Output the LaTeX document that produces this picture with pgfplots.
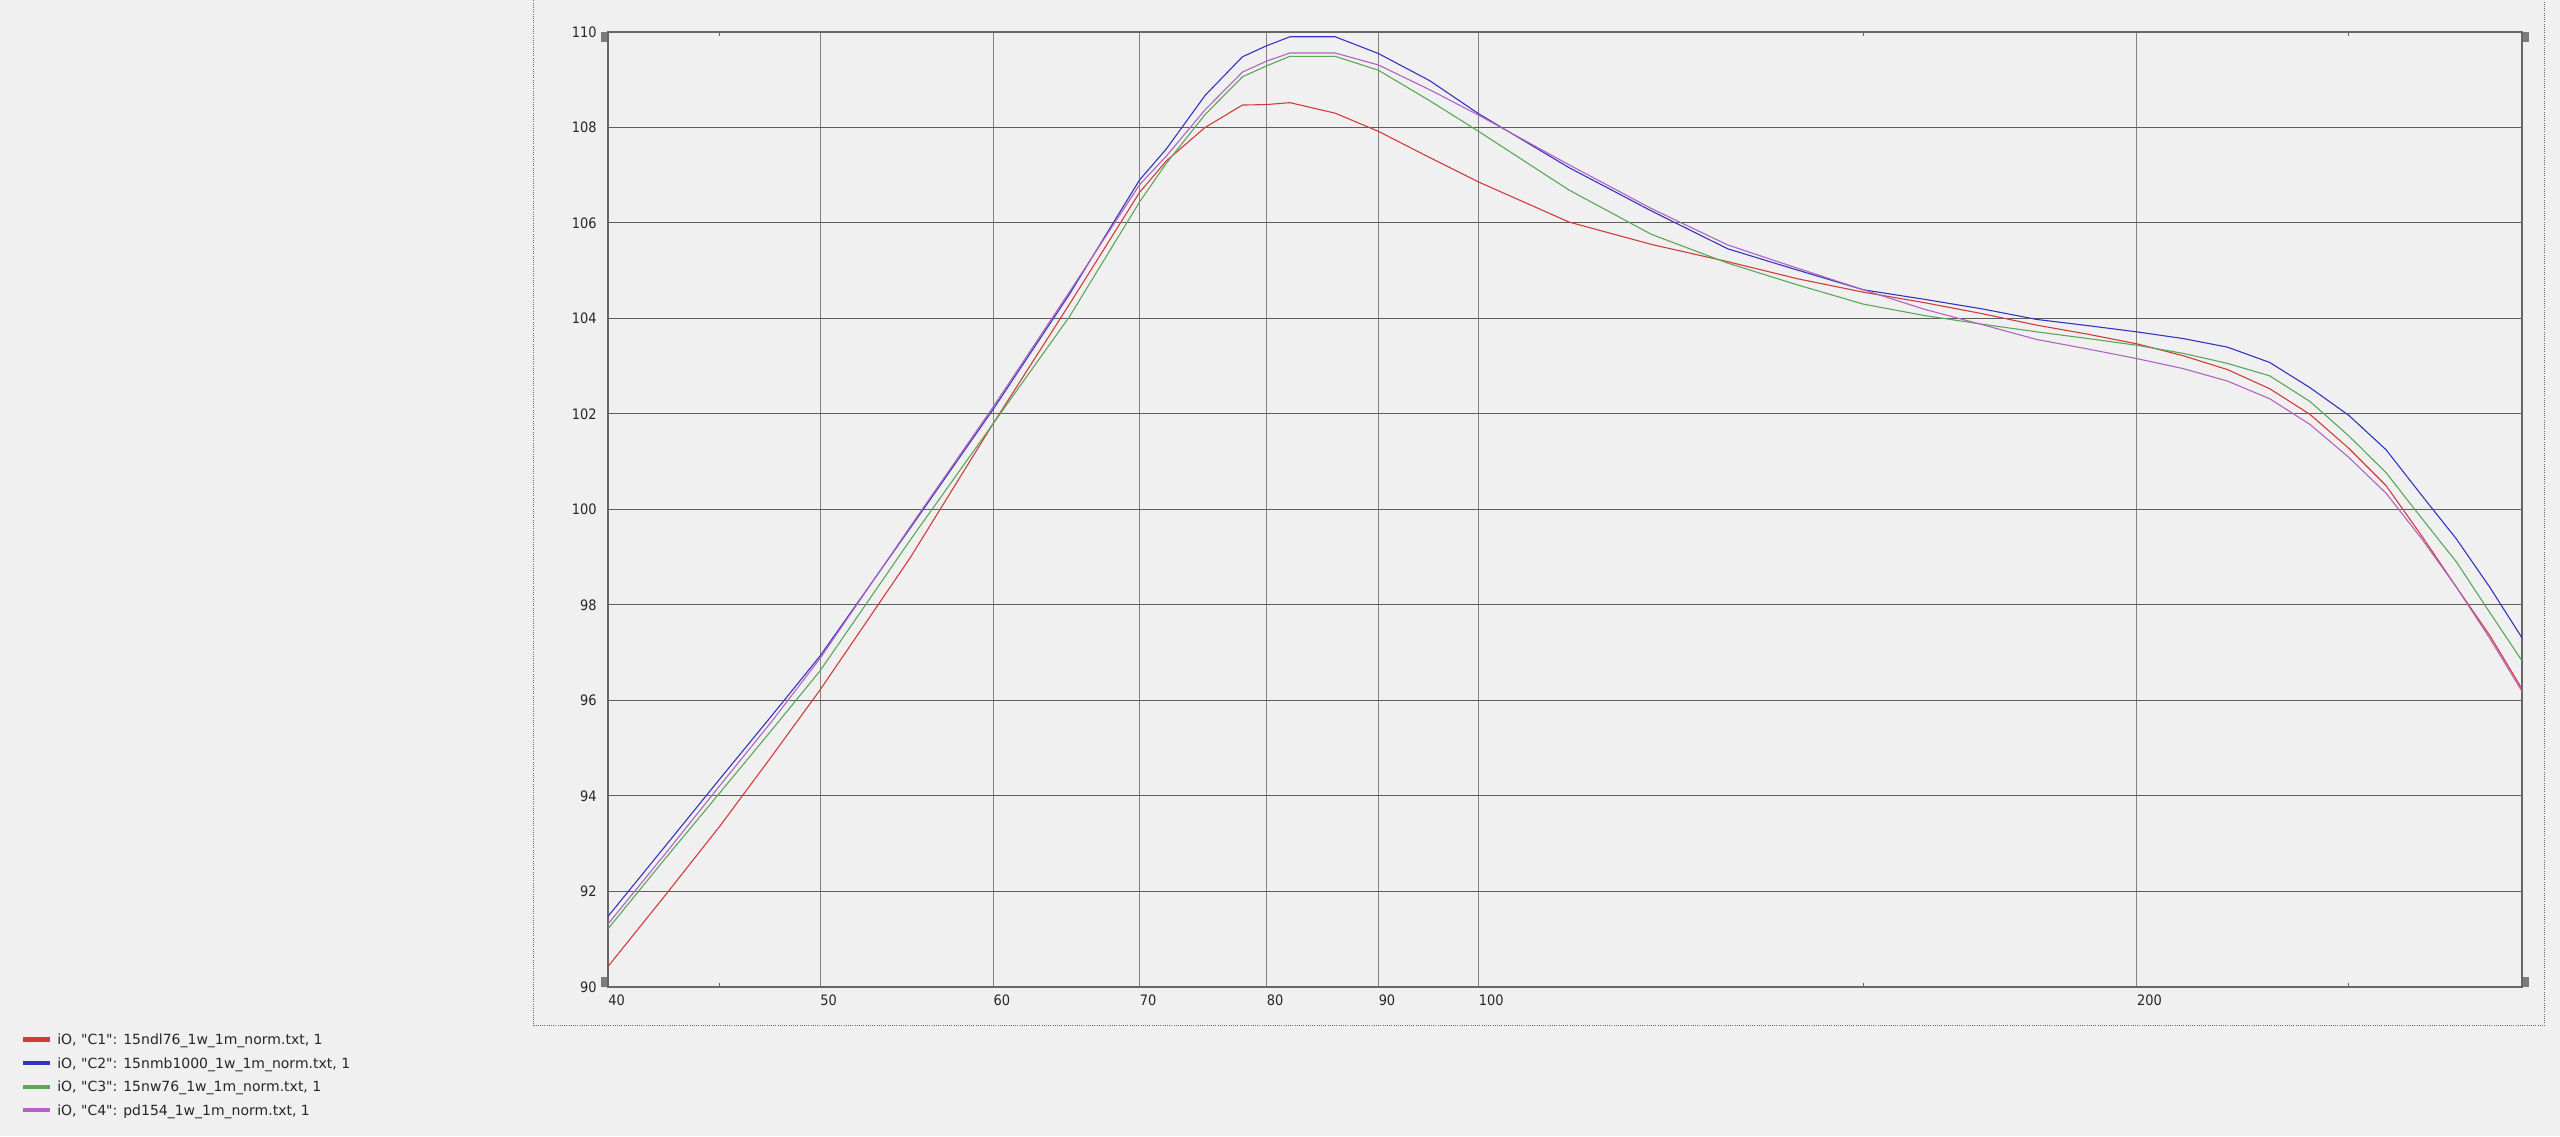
\documentclass[border=0pt]{standalone}
\usepackage{fontspec}
\setmainfont{DejaVu Sans}
\newfontfamily\tickfont[FakeStretch=0.9]{DejaVu Sans}
\usepackage{pgfplots}
\usepackage{pgfplotstable}
\pgfplotsset{compat=1.18}

\definecolor{bg}{HTML}{F0F0F0}
\definecolor{cRed}{HTML}{D03C3C}
\definecolor{cBlue}{HTML}{3434C0}
\definecolor{cGreen}{HTML}{58A858}
\definecolor{cPurple}{HTML}{B064C0}
\definecolor{gridH}{HTML}{5C5C5C}
\definecolor{gridV}{HTML}{828282}
\definecolor{frame}{HTML}{666666}
\definecolor{grip}{HTML}{7C7C7C}
\definecolor{txt}{HTML}{262626}

\newcommand{\q}{\textquotedbl}

% frequency (Hz), level (dB)
\pgfplotstableread{
f     v
40    90.43
42.5  91.93
45    93.37
47.5  94.82
50    96.22
55    99.00
60    101.80
65    104.29
70    106.64
72    107.30
75    108.00
78    108.47
80    108.48
82    108.52
86    108.30
90    107.92
95    107.37
100   106.86
110   106.02
120   105.55
130   105.19
140   104.83
150   104.55
160   104.33
170   104.10
180   103.86
190   103.67
200   103.47
210   103.22
220   102.93
230   102.53
240   101.99
250   101.28
260   100.50
270   99.44
280   98.37
290   97.36
300   96.24
}\Cone

\pgfplotstableread{
f     v
40    91.48
42.5  92.96
45    94.36
47.5  95.67
50    96.93
55    99.62
60    102.10
65    104.50
70    106.90
72    107.55
75    108.67
78    109.48
80    109.71
82    109.90
86    109.90
90    109.55
95    108.98
100   108.29
110   107.16
120   106.25
130   105.46
140   105.01
150   104.60
160   104.40
170   104.20
180   103.98
190   103.85
200   103.72
210   103.58
220   103.40
230   103.08
240   102.55
250   101.97
260   101.25
270   100.29
280   99.38
290   98.37
300   97.31
}\Ctwo

\pgfplotstableread{
f     v
40    91.22
42.5  92.70
45    94.07
47.5  95.37
50    96.62
55    99.37
60    101.80
65    104.03
70    106.44
72    107.25
75    108.27
78    109.06
80    109.29
82    109.49
86    109.49
90    109.20
95    108.56
100   107.92
110   106.69
120   105.76
130   105.16
140   104.70
150   104.30
160   104.06
170   103.88
180   103.72
190   103.58
200   103.44
210   103.27
220   103.06
230   102.80
240   102.26
250   101.54
260   100.77
270   99.81
280   98.90
290   97.84
300   96.83
}\Cthree

\pgfplotstableread{
f     v
40    91.32
42.5  92.80
45    94.22
47.5  95.55
50    96.88
55    99.65
60    102.15
65    104.55
70    106.80
72    107.40
75    108.37
78    109.16
80    109.39
82    109.56
86    109.56
90    109.31
95    108.79
100   108.26
110   107.22
120   106.30
130   105.54
140   105.05
150   104.60
160   104.19
170   103.87
180   103.56
190   103.36
200   103.16
210   102.95
220   102.69
230   102.32
240   101.78
250   101.09
260   100.34
270   99.38
280   98.37
290   97.30
300   96.19
}\Cfour

\begin{document}
\begin{tikzpicture}
\useasboundingbox (0pt,0pt) rectangle (1280pt,568pt);
\fill[bg] (0pt,0pt) rectangle (1280pt,568pt);
% dotted panel frame
\draw[color=frame, line width=0.5pt, dash pattern=on 0.5pt off 0.6pt]
  (266.75pt,570pt) -- (266.75pt,55.15pt) -- (1272pt,55.15pt) -- (1272pt,570pt);

\begin{axis}[
  at={(304pt,74.5pt)}, anchor=south west,
  scale only axis, width=957pt, height=477.5pt,
  xmode=log, log basis x=10,
  xmin=40, xmax=300, ymin=90, ymax=110,
  xtick={40,50,60,70,80,90,100,200},
  xticklabels={40,50,60,70,80,90,100,200},
  extra x ticks={45,150,250},
  extra x tick labels={},
  extra x tick style={grid=none, major tick length=2pt,
    tick style={color=frame, line width=0.5pt}},
  xminorticks=false,
  ytick={90,92,...,110},
  major tick length=0pt,
  tick align=inside,
  grid=major,
  x grid style={color=gridV, line width=0.5pt},
  y grid style={color=gridH, line width=0.5pt},
  axis line style={color=frame, line width=0.75pt},
  /pgf/number format/assume math mode=true,
  xticklabel style={anchor=north west, inner sep=0pt, yshift=-3.5pt,
    font=\tickfont\fontsize{7.2pt}{8pt}\selectfont, text=txt},
  yticklabel style={anchor=east, inner sep=0pt, xshift=-5.5pt,
    font=\tickfont\fontsize{7.2pt}{8pt}\selectfont, text=txt},
  every axis plot/.append style={line width=0.55pt},
  legend cell align=left,
  legend image code/.code={\draw[line width=2.15pt] (0pt,0pt) -- (13.5pt,0pt);},
  legend style={at={(-0.30685,-0.0465)}, anchor=north west,
    draw=none, fill=none, inner sep=0pt, outer sep=0pt,
    font=\fontsize{7pt}{8pt}\selectfont, text=txt,
    row sep=3.7pt, column sep=2.65pt,
    nodes={inner sep=0pt, text height=6.6pt, text depth=1.5pt}},
]
\addplot[cRed] table[x=f, y=v] {\Cone};
\addlegendentry{iO, \q C1\q: 15ndl76\_1w\_1m\_norm.txt, 1}
\addplot[cBlue] table[x=f, y=v] {\Ctwo};
\addlegendentry{iO, \q C2\q: 15nmb1000\_1w\_1m\_norm.txt, 1}
\addplot[cGreen] table[x=f, y=v] {\Cthree};
\addlegendentry{iO, \q C3\q: 15nw76\_1w\_1m\_norm.txt, 1}
\addplot[cPurple] table[x=f, y=v] {\Cfour};
\addlegendentry{iO, \q C4\q: pd154\_1w\_1m\_norm.txt, 1}
\end{axis}

% corner grips
\fill[grip] (300.5pt,552pt) rectangle (303.4pt,547pt);
\fill[grip] (300.5pt,74.5pt) rectangle (303.4pt,79.5pt);
\fill[grip] (1261.6pt,552pt) rectangle (1264.5pt,547pt);
\fill[grip] (1261.6pt,74.5pt) rectangle (1264.5pt,79.5pt);
\end{tikzpicture}
\end{document}
